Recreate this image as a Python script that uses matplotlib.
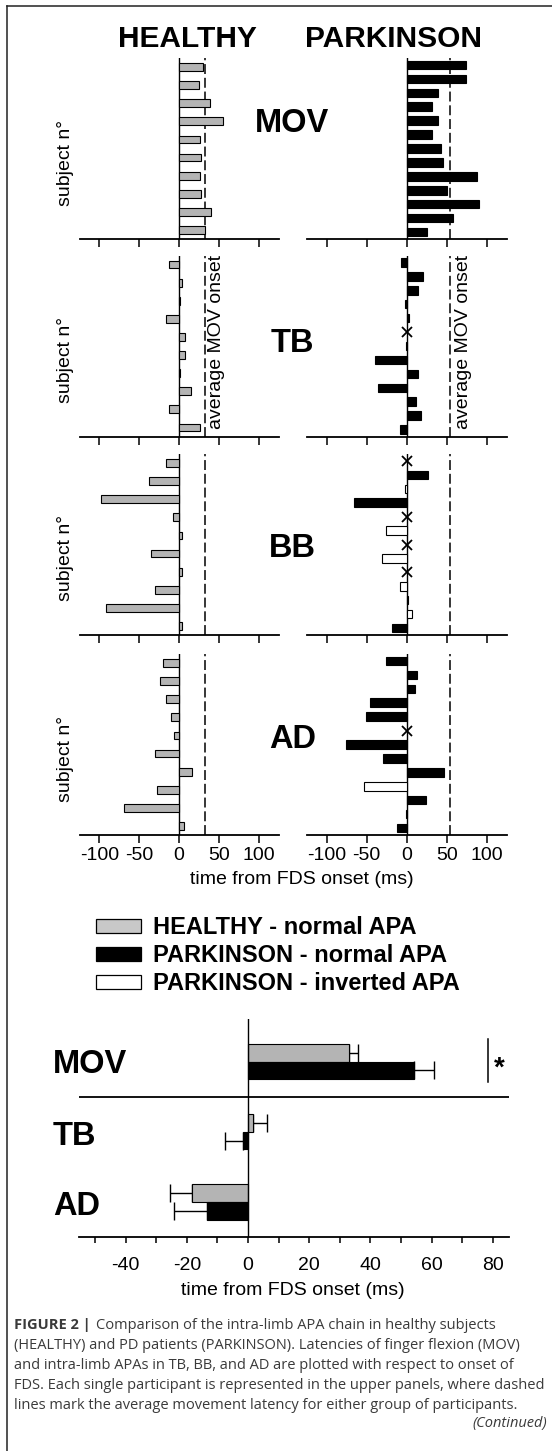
import numpy as np
import matplotlib
matplotlib.use('Agg')
import matplotlib.pyplot as plt
from matplotlib.patches import Rectangle
from matplotlib.lines import Line2D

plt.rcParams['font.family'] = ['Liberation Sans', 'DejaVu Sans']
plt.rcParams['axes.unicode_minus'] = False

# ---- single subject latencies (ms), subject 1 at the top ----
h_mov = [30.5, 25.2, 39, 55, 26.5, 27.4, 26.5, 27, 40, 32]
h_tb = [-12.4, 3, 1.3, -17, 7.6, 7, 1, 14.8, -13.3, 26]
h_bb = [-16, -38, -97.8, -8, 3.5, -35, 3, -30, -91.6, 3]
h_ad = [-20, -24, -16, -10.6, -6.2, -30, 16.4, -27.4, -68.6, 6.2]

nan = np.nan  # no APA -> drawn as a cross
pd_mov = [74.3, 74.3, 39, 31.4, 39, 31.4, 43.4, 44.7, 88, 50, 90.7, 57.5, 25.7]
pd_tb = [-7, 20.4, 14.6, -2.2, 3, nan, -1, -39.8, 14, -36.3, 12, 17.3, -8]
pd_bb = [nan, 26.5, -2.7, -65.5, nan, -25.7, nan, -30.5, nan, -8.8, 2.2, 7, -18.6]
pd_ad = [-25.7, 13.3, 10.6, -46, -51.3, nan, -76, -29.6, 46, -52.7, 24, -1, -11.5]
pd_bb_inverted = [0, 0, 1, 0, 0, 1, 0, 1, 0, 1, 0, 1, 0]
pd_ad_inverted = [0, 0, 0, 0, 0, 0, 0, 0, 0, 1, 0, 0, 0]

muscles = ['MOV', 'TB', 'BB', 'AD']
groups = ['HEALTHY', 'PARKINSON']

# ---- group averages (bottom panel) ----
sum_labels = ['MOV', 'TB', 'AD']
sum_healthy = [32.9, 1.7, -18.2]
sum_healthy_err = [2.9, 4.6, 7.2]
sum_pd = [54.2, -1.7, -13.4]
sum_pd_err = [6.5, 5.8, 10.7]

legend_labels = ['HEALTHY - normal APA', 'PARKINSON - normal APA', 'PARKINSON - inverted APA']
legend_colors = ['#c8c8c8', 'black', 'white']

GRAY = '#b4b4b4'
W, H = 552, 1451
fig = plt.figure(figsize=(W / 100, H / 100), dpi=100)


def rect(x0, y0, x1, y1):
    return [x0 / W, 1 - y1 / H, (x1 - x0) / W, (y1 - y0) / H]


def ftext(x, y, s, **kw):
    return fig.text(x / W, 1 - y / H, s, **kw)


def cap_text(x, yc, s, size, **kw):
    # put the centre of the capitals at yc (pixels)
    return ftext(x, yc + 0.35 * size * 100 / 72, s, fontsize=size, va='baseline', **kw)


healthy_data = [h_mov, h_tb, h_bb, h_ad]
pd_data = [pd_mov, pd_tb, pd_bb, pd_ad]
pd_inv = [[0] * 13, [0] * 13, pd_bb_inverted, pd_ad_inverted]
onset = [sum_healthy[0], sum_pd[0]]

panel_tops = [58, 255.5, 454, 654]
panel_h = 181
col_x = [(80.3, 279.2), (307.3, 507.3)]
label_y = [120.8, 340.1, 545.6, 737]

for i, m in enumerate(muscles):
    top = panel_tops[i]
    for g in range(2):
        x0, x1 = col_x[g]
        ax = fig.add_axes(rect(x0, top, x1, top + panel_h))
        if g == 0:
            v = np.array(healthy_data[i], dtype=float)
            y = np.arange(1, len(v) + 1)
            ax.barh(y, v, height=0.43, color=GRAY, edgecolor='black', lw=0.8, zorder=2)
        else:
            v = np.array(pd_data[i], dtype=float)
            inv = np.array(pd_inv[i], dtype=bool)
            y = np.arange(1, len(v) + 1)
            ok = ~np.isnan(v)
            fc = np.where(inv, 'white', 'black')
            ax.barh(y[ok], v[ok], height=0.61, color=fc[ok], edgecolor='black', lw=0.8, zorder=2)
            ax.plot(np.zeros((~ok).sum()), y[~ok], 'x', color='black', ms=7, mew=1.3, zorder=3)
        n = len(v)
        ax.set_ylim(n + 0.5, 0.5)
        ax.set_xlim(-124, 125.5)
        ax.axvline(0, color='black', lw=1.0, zorder=1)
        ax.axvline(onset[g], color='black', lw=1.1, ls=(0, (6.5, 2.5)), zorder=1)
        for s in ['left', 'right', 'top']:
            ax.spines[s].set_visible(False)
        ax.spines['bottom'].set_linewidth(1.3)
        ax.set_yticks([])
        ax.set_xticks([-100, -50, 0, 50, 100])
        ax.tick_params(axis='x', length=5.5, width=1.1, direction='out', pad=3, labelsize=14)
        if i < 3:
            ax.set_xticklabels([])
        ax.patch.set_alpha(0)
    # row texts
    ftext(65.1, top + panel_h / 2 + 14, 'subject n°', rotation=90, ha='center', va='center', fontsize=14)
    cap_text(292.2, label_y[i], m, 23.5, ha='center', fontweight='bold')

# "average MOV onset" labels in the TB row
ftext(216.5, 341.5, 'average MOV onset', rotation=90, ha='center', va='center', fontsize=14)
ftext(463.5, 341.5, 'average MOV onset', rotation=90, ha='center', va='center', fontsize=14)

cap_text(187.5, 37, groups[0], 21.5, ha='center', fontweight='bold')
cap_text(393.4, 37, groups[1], 21.5, ha='center', fontweight='bold')
ftext(301.7, 879.8, 'time from FDS onset (ms)', ha='center', va='center', fontsize=14)

# legend
leg_rows = [926, 954, 982]
for yc, lab, c in zip(leg_rows, legend_labels, legend_colors):
    fig.add_artist(Rectangle((95.7 / W, 1 - (yc + 7) / H), 45.3 / W, 14 / H,
                             transform=fig.transFigure, facecolor=c, edgecolor='black', lw=0.9))
    cap_text(152.7, yc, lab, 17, ha='left', fontweight='bold')

# ---- bottom summary panel ----
ax = fig.add_axes(rect(79.2, 1018.8, 508.7, 1237.1))
yy = np.arange(len(sum_labels))
hm = np.array(sum_healthy)
pm = np.array(sum_pd)
he = np.array(sum_healthy_err)
pe = np.array(sum_pd_err)
ax.barh(yy - 0.125, hm, 0.25, color=GRAY, edgecolor='black', lw=0.8, zorder=2)
ax.barh(yy + 0.125, pm, 0.25, color='black', edgecolor='black', lw=0.8, zorder=2)
ax.errorbar(hm, yy - 0.125, xerr=[np.where(hm < 0, he, 0), np.where(hm > 0, he, 0)],
            fmt='none', ecolor='black', elinewidth=1.0, capsize=6.3, capthick=1.0, zorder=1)
ax.errorbar(pm, yy + 0.125, xerr=[np.where(pm < 0, pe, 0), np.where(pm > 0, pe, 0)],
            fmt='none', ecolor='black', elinewidth=1.0, capsize=6.3, capthick=1.0, zorder=1)
ax.set_xlim(-55.2, 85.2)
ax.set_ylim(2.5, -0.61)
ax.axvline(0, color='black', lw=1.0, zorder=3)
ax.axhline(0.5, color='black', lw=1.3)
ax.plot([78.5, 78.5], [-0.32, 0.29], color='black', lw=1.1)
for s in ['left', 'right', 'top']:
    ax.spines[s].set_visible(False)
ax.spines['bottom'].set_linewidth(1.3)
ax.set_yticks([])
ax.set_xticks(np.arange(-40, 81, 20))
ax.set_xticks(np.arange(-50, 81, 20), minor=True)
ax.tick_params(axis='x', which='both', length=4.5, width=1.1, direction='out', pad=10, labelsize=14)
ax.patch.set_alpha(0)
cap_text(499.2, 1066, '*', 20, ha='center', fontweight='bold')
for yc, lab in zip([1062, 1133.2, 1203.6], sum_labels):
    cap_text(52.8, yc, lab, 23.5, ha='left', fontweight='bold')
ftext(293.2, 1290.6, 'time from FDS onset (ms)', ha='center', va='center', fontsize=14)

# ---- caption ----
cap_lines = [
    'Comparison of the intra-limb APA chain in healthy subjects',
    '(HEALTHY) and PD patients (PARKINSON). Latencies of finger flexion (MOV)',
    'and intra-limb APAs in TB, BB, and AD are plotted with respect to onset of',
    'FDS. Each single participant is represented in the upper panels, where dashed',
    'lines mark the average movement latency for either group of participants.',
]
cap_y = [1325.3, 1345.8, 1365.1, 1385.5, 1405.6]
ccol = '#3a3a3a'
cfam = ['Open Sans', 'DejaVu Sans']
renderer = fig.canvas.get_renderer()
probe = ftext(14.1, cap_y[3], cap_lines[3], fontsize=10, va='center', family=cfam)
cfs = 10 * 532.6 / probe.get_window_extent(renderer).width
probe.remove()
bold = ftext(14.1, cap_y[0], 'FIGURE 2 |', fontsize=cfs, va='center', fontweight='bold',
             color=ccol, family=cfam)
bx = bold.get_window_extent(renderer).x1
for k, (line, yc) in enumerate(zip(cap_lines, cap_y)):
    x = bx + 5 if k == 0 else 14.1
    ftext(x, yc, line, fontsize=cfs, va='center', color=ccol, family=cfam)
ftext(547.4, 1423.2, '(Continued)', fontsize=cfs, va='center', ha='right', style='italic',
      color=ccol, family=cfam)

# page frame (left and top)
fig.add_artist(Line2D([7.4 / W, 7.4 / W], [0, 1 - 6.3 / H], transform=fig.transFigure, color='#222222', lw=1.1))
fig.add_artist(Line2D([7.4 / W, 1], [1 - 6.3 / H, 1 - 6.3 / H], transform=fig.transFigure, color='#222222', lw=1.1))

fig.savefig('out.png', dpi=100)
